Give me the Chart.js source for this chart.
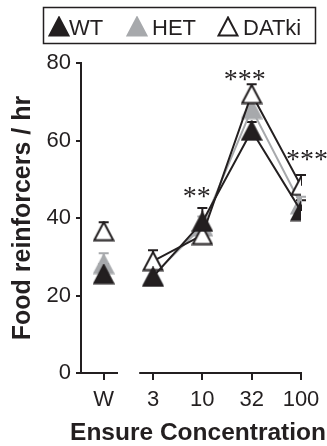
<!DOCTYPE html>
<html>
<head>
<meta charset="utf-8">
<script src="https://cdn.jsdelivr.net/npm/chart.js@4.4.1/dist/chart.umd.min.js"></script>
<style>
  body { margin: 0; background: #fff; }
  #chart { display: block; }
</style>
</head>
<body>
<canvas id="chart" width="327" height="446"></canvas>
<script>
// valores (media e erro padrao)
const categories = ['W', '3', '10', '32', '100'];
const wtMeans = [25.5, 24.8, 39.0, 62.5, 41.8];
const wtSem = [2.6, 2.3, 3.6, 2.3, 2.8];
const hetMeans = [28.1, 25.2, 37.8, 68.1, 43.5];
const hetSem = [2.8, 2.3, 2.6, 2.0, 2.0];
const datkiMeans = [36.6, 28.9, 35.6, 72.0, 48.3];
const datkiSem = [2.3, 2.8, 2.3, 2.5, 2.8];
const yTicks = [0, 20, 40, 60, 80];

// asteriscos de significancia
const starText = ['**', '***', '***'];
const starCat = [2, 3, 4];
const starY = [46.7, 76.9, 56.3];

const INK = '#231f20';
const GREY = '#a7a9ac';
const SANS = '"Liberation Sans", Arial, sans-serif';

function triangulo(fill, stroke) {
    const c = document.createElement('canvas');
    c.width = 22; c.height = 21;
    const g = c.getContext('2d');
    g.beginPath();
    g.moveTo(11, 1.5);
    g.lineTo(20.5, 19.5);
    g.lineTo(1.5, 19.5);
    g.closePath();
    g.fillStyle = fill;
    g.fill();
    g.lineWidth = 2;
    g.strokeStyle = stroke;
    g.stroke();
    return c;
}

const triWT = triangulo(INK, INK);
const triHET = triangulo(GREY, GREY);
const triDAT = triangulo('#fff', INK);

function serie(label, means, sem, color, tri) {
    return {
        label,
        data: means.map((v, i) => ({ x: i, y: v })),
        sem,
        borderColor: color,
        borderWidth: 2,
        pointStyle: tri,
        pointRadius: 9,
        tension: 0,
        segment: {
            // o ponto W nao se liga a curva
            borderColor: ctx => ctx.p0DataIndex === 0 ? 'rgba(0,0,0,0)' : color
        }
    };
}

const extras = {
    id: 'extras',
    beforeDatasetsDraw(chart) {
        const ctx = chart.ctx;
        const x = chart.scales.x, y = chart.scales.y;
        ctx.save();
        ctx.lineWidth = 2;
        chart.data.datasets.forEach(ds => {
            ctx.strokeStyle = ds.borderColor;
            ds.data.forEach((p, i) => {
                const px = x.getPixelForValue(p.x);
                const y0 = y.getPixelForValue(p.y);
                const y1 = y.getPixelForValue(p.y + ds.sem[i]);
                ctx.beginPath();
                ctx.moveTo(px, y0); ctx.lineTo(px, y1);
                ctx.moveTo(px - 5, y1); ctx.lineTo(px + 5, y1);
                ctx.stroke();
            });
        });
        ctx.restore();
    },
    afterDraw(chart) {
        const ctx = chart.ctx;
        const x = chart.scales.x, y = chart.scales.y;
        const a = chart.chartArea;
        ctx.save();

        // eixo x interrompido
        ctx.strokeStyle = INK;
        ctx.lineWidth = 2;
        ctx.beginPath();
        ctx.moveTo(a.left - 1, a.bottom); ctx.lineTo(x.getPixelForValue(0.29), a.bottom);
        ctx.moveTo(x.getPixelForValue(0.72), a.bottom); ctx.lineTo(a.right + 1, a.bottom);
        ctx.stroke();

        // asteriscos
        const dx = [-5.5, -7, 6];
        ctx.fillStyle = INK;
        ctx.font = '28px "Liberation Serif", "Times New Roman", serif';
        ctx.textAlign = 'center';
        ctx.textBaseline = 'alphabetic';
        starText.forEach((t, i) => {
            ctx.fillText(t, x.getPixelForValue(starCat[i]) + dx[i], y.getPixelForValue(starY[i]) + 13);
        });

        // titulo do eixo x
        ctx.font = 'bold 24.5px ' + SANS;
        ctx.fillText('Ensure Concentration', 198, 440);

        // legenda
        ctx.lineWidth = 1.5;
        ctx.strokeRect(43.5, 7.5, 272, 36);
        ctx.font = '22px ' + SANS;
        ctx.textAlign = 'left';
        const itens = [['WT', triWT, 59, 69], ['HET', triHET, 137, 152], ['DATki', triDAT, 228, 243]];
        itens.forEach(([t, img, cx, tx]) => {
            ctx.drawImage(img, cx - 11, 16);
            ctx.fillText(t, tx, 35);
        });
        ctx.restore();
    }
};

new Chart(document.getElementById('chart'), {
    type: 'line',
    data: {
        datasets: [
            serie('WT', wtMeans, wtSem, INK, triWT),
            serie('DATki', datkiMeans, datkiSem, INK, triDAT),
            serie('HET', hetMeans, hetSem, GREY, triHET)
        ]
    },
    options: {
        responsive: false,
        animation: false,
        devicePixelRatio: 1,
        layout: { padding: { top: 63, right: 26, bottom: 0, left: 0 } },
        plugins: { legend: { display: false }, tooltip: { enabled: false } },
        scales: {
            x: {
                type: 'linear',
                min: -0.46,
                max: 4,
                afterBuildTicks: s => { s.ticks = categories.map((c, i) => ({ value: i })); },
                afterFit: s => { s.height = 73; },
                ticks: {
                    callback: (v, i) => categories[i],
                    font: { family: SANS, size: 22 },
                    color: INK,
                    padding: 7,
                    maxRotation: 0,
                    autoSkip: false
                },
                grid: { drawOnChartArea: false, tickLength: 7, color: INK, lineWidth: 2 },
                border: { display: false }
            },
            y: {
                min: 0,
                max: 80,
                afterBuildTicks: s => { s.ticks = yTicks.map(v => ({ value: v })); },
                afterFit: s => { s.width = 81; },
                ticks: { font: { family: SANS, size: 22 }, color: INK, padding: 5 },
                grid: { drawOnChartArea: false, tickLength: 5, color: INK, lineWidth: 2 },
                border: { display: true, color: INK, width: 2 },
                title: {
                    display: true,
                    text: 'Food reinforcers / hr',
                    font: { family: SANS, size: 25, weight: 'bold' },
                    color: INK,
                    padding: { top: 8, bottom: 0 }
                }
            }
        }
    },
    plugins: [extras]
});
</script>
</body>
</html>
